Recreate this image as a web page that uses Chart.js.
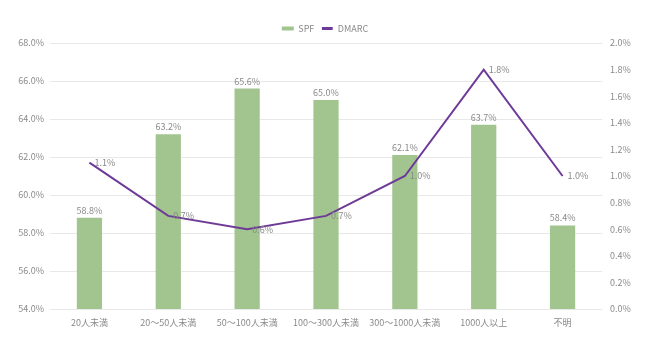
<!DOCTYPE html>
<html>
<head>
<meta charset="utf-8">
<script src="https://cdn.jsdelivr.net/npm/chart.js@4/dist/chart.umd.min.js"></script>
<style>
  html, body { margin: 0; padding: 0; background: #ffffff; }
  #wrap { width: 650px; height: 350px; }
</style>
</head>
<body>
<div id="wrap"><canvas id="c" width="650" height="350"></canvas></div>
<script>
// Company-size categories and the two measured rates
const categories = ['20人未満', '20～50人未満', '50～100人未満', '100～300人未満', '300～1000人未満', '1000人以上', '不明'];
const spfRates = [58.8, 63.2, 65.6, 65.0, 62.1, 63.7, 58.4];
const dmarcRates = [1.1, 0.7, 0.6, 0.7, 1.0, 1.8, 1.0];
const seriesNames = ['SPF', 'DMARC'];

const FONT = '"Noto Sans CJK JP", "Noto Sans", sans-serif';
const TEXT = '#8a8a8a';
const GREEN = '#a2c48f';
const PURPLE = '#6e3a98';

// Writes each value as a percentage label beside its mark
const valueLabels = {
  id: 'valueLabels',
  afterDatasetsDraw(chart) {
    const ctx = chart.ctx;
    ctx.save();
    ctx.font = '9px ' + FONT;
    ctx.fillStyle = TEXT;
    chart.data.datasets.forEach((ds, i) => {
      const meta = chart.getDatasetMeta(i);
      meta.data.forEach((el, j) => {
        const txt = ds.data[j].toFixed(1) + '%';
        if (ds.type === 'bar') {
          ctx.textAlign = 'center';
          ctx.textBaseline = 'bottom';
          ctx.fillText(txt, el.x, el.y - 3);
        } else {
          ctx.textAlign = 'left';
          ctx.textBaseline = 'middle';
          ctx.fillText(txt, el.x + 5, el.y);
        }
      });
    });
    ctx.restore();
  }
};

new Chart(document.getElementById('c'), {
  data: {
    labels: categories,
    datasets: [
      {
        type: 'line',
        label: seriesNames[1],
        data: dmarcRates,
        yAxisID: 'y1',
        borderColor: PURPLE,
        backgroundColor: PURPLE,
        borderWidth: 2,
        pointRadius: 0,
        tension: 0,
        order: 0
      },
      {
        type: 'bar',
        label: seriesNames[0],
        data: spfRates,
        yAxisID: 'y',
        backgroundColor: GREEN,
        categoryPercentage: 1,
        barPercentage: 0.32,
        order: 1
      }
    ]
  },
  options: {
    responsive: false,
    animation: false,
    layout: { padding: { top: 17, left: 0, right: 0, bottom: 0 } },
    plugins: {
      legend: {
        position: 'top',
        reverse: true,
        labels: {
          color: TEXT,
          font: { family: FONT, size: 9 },
          boxWidth: 12,
          boxHeight: 4,
          padding: 7,
          generateLabels(chart) {
            const items = Chart.defaults.plugins.legend.labels.generateLabels(chart);
            items.forEach(it => {
              const ds = chart.data.datasets[it.datasetIndex];
              it.fillStyle = ds.backgroundColor;
              if (ds.type === 'line') {
                // thin swatch so the line series reads as a stroke
                it.strokeStyle = '#ffffff';
                it.lineWidth = 1.2;
              } else {
                it.strokeStyle = ds.backgroundColor;
                it.lineWidth = 0;
              }
            });
            return items;
          }
        }
      },
      tooltip: { enabled: false }
    },
    scales: {
      x: {
        grid: { display: false },
        border: { display: false },
        ticks: { color: TEXT, font: { family: FONT, size: 9 }, padding: 0, maxRotation: 0 },
        afterFit(s) { s.height = 41; }
      },
      y: {
        position: 'left',
        min: 54, max: 68,
        ticks: {
          stepSize: 2,
          color: TEXT,
          font: { family: FONT, size: 9 },
          padding: 6,
          callback: v => v.toFixed(1) + '%'
        },
        grid: { color: '#e8e8e8', lineWidth: 1, drawTicks: false },
        border: { display: false },
        afterFit(s) { s.width = 50; }
      },
      y1: {
        position: 'right',
        min: 0, max: 2,
        ticks: {
          stepSize: 0.2,
          color: TEXT,
          font: { family: FONT, size: 9 },
          padding: 8,
          callback: v => v.toFixed(1) + '%'
        },
        grid: { display: false, drawTicks: false },
        border: { display: false },
        afterFit(s) { s.width = 48; }
      }
    }
  },
  plugins: [valueLabels]
});
</script>
</body>
</html>
